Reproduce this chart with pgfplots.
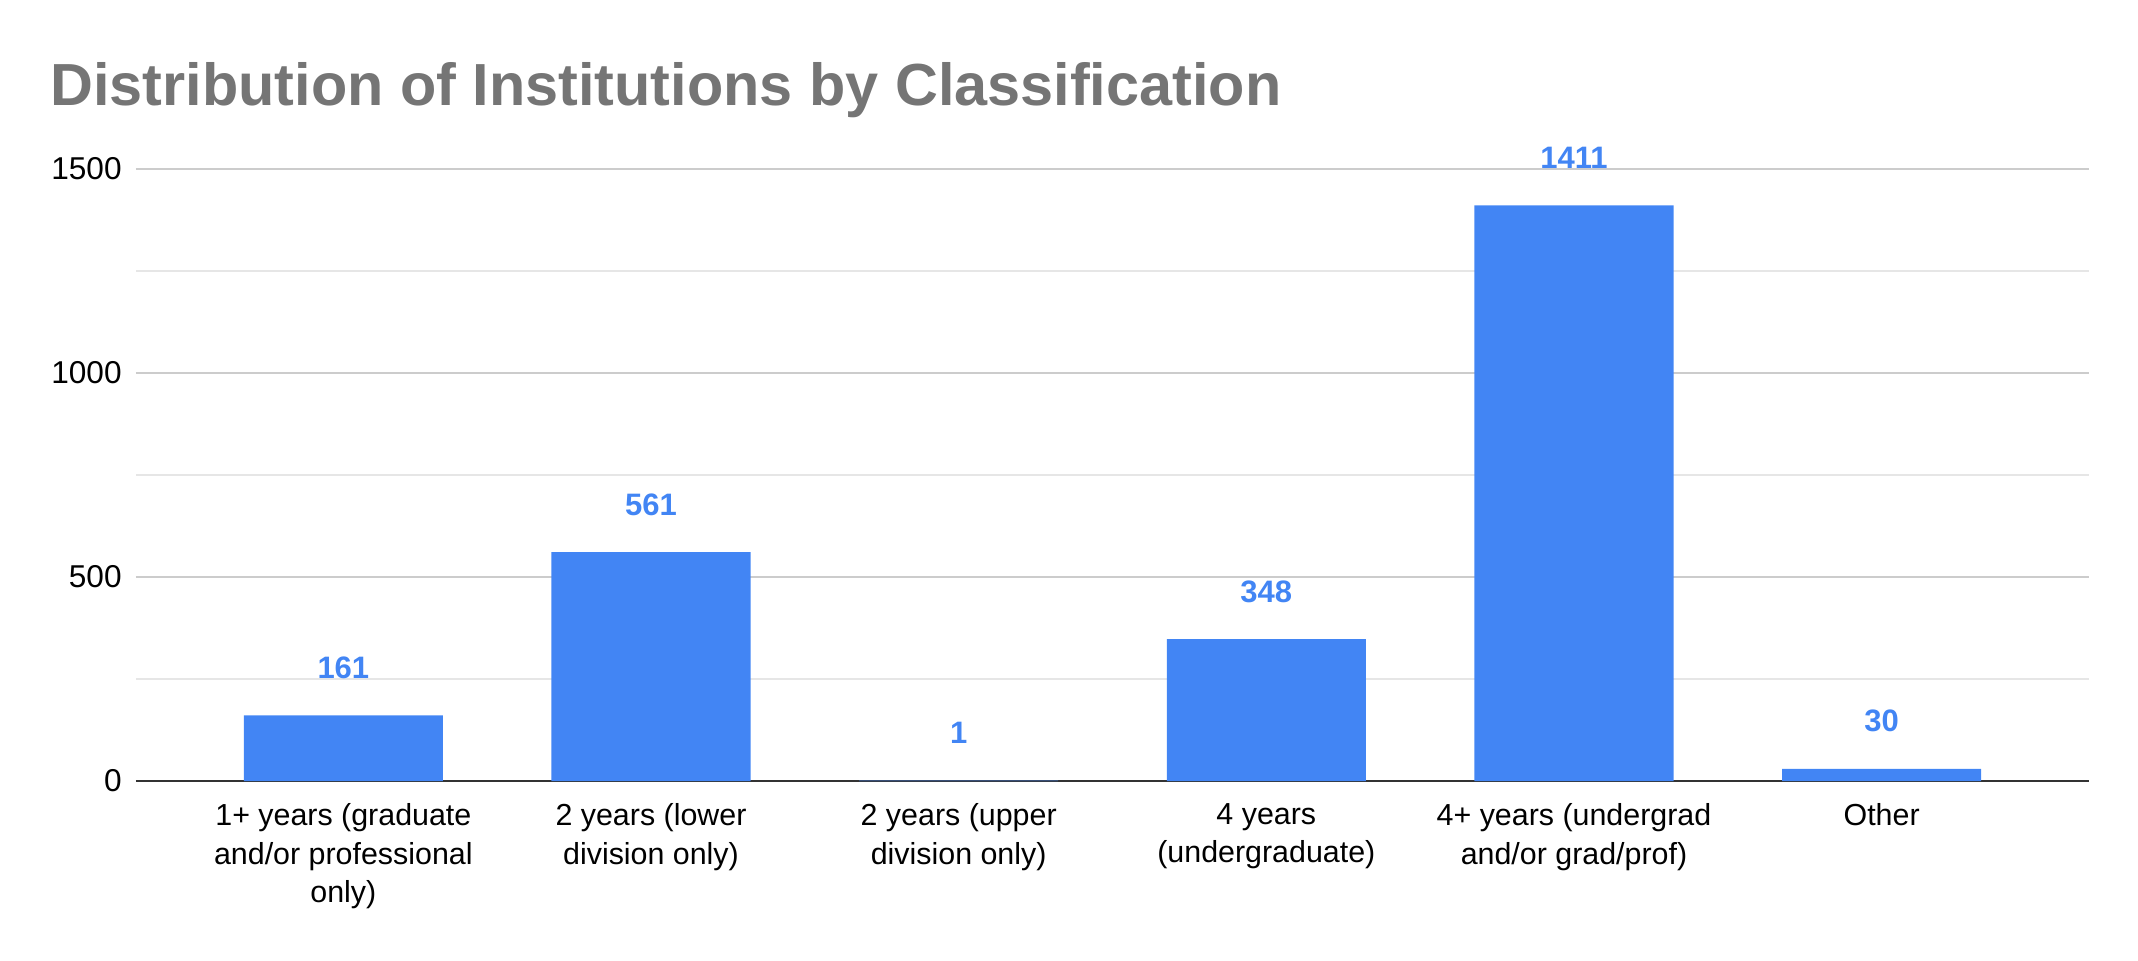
\documentclass[border=0pt]{standalone}
\usepackage{pgfplots}
\pgfplotsset{compat=1.18}
\usepackage{fontspec}
\setmainfont{Liberation Sans}
\definecolor{barblue}{HTML}{4285F4}
\definecolor{titlegray}{HTML}{757575}
\definecolor{gridmaj}{HTML}{CCCCCC}
\definecolor{gridmin}{HTML}{E6E6E6}
\definecolor{axisdark}{HTML}{333333}
\begin{document}
\begin{tikzpicture}
\useasboundingbox (-68pt,-89.5pt) rectangle (1001pt,390.5pt);
\begin{axis}[
  at={(0,0)}, anchor=south west,
  scale only axis,
  width=976.5pt, height=306pt,
  xmin=-0.674, xmax=5.674,
  ymin=0, ymax=1500,
  ybar, bar width=0.647,
  xtick={0,1,2,3,4,5},
  xticklabels={{1+ years (graduate\\and/or professional\\only)},{2 years (lower\\division only)},{2 years (upper\\division only)},{4 years\\(undergraduate)},{4+ years (undergrad\\and/or grad/prof)},{Other}},
  ytick={0,500,1000,1500},
  minor ytick={250,750,1250},
  ymajorgrids, yminorgrids,
  major grid style={draw=gridmaj, line width=0.6pt},
  minor grid style={draw=gridmin, line width=0.6pt},
  major tick length=0pt, minor tick length=0pt,
  axis x line*=bottom, axis y line*=left,
  x axis line style={draw=axisdark, line width=0.9pt, -},
  y axis line style={draw=none},
  /pgf/number format/assume math mode=true,
  /pgf/number format/1000 sep={},
  yticklabel style={font=\fontsize{15.8}{18}\selectfont, anchor=east, inner sep=0pt, xshift=-7pt},
  xticklabel style={font=\fontsize{15.2}{19.3}\selectfont, align=center, anchor=north, inner sep=0pt, yshift=-11pt},
  nodes near coords,
  every node near coord/.append style={font=\fontsize{15.5}{18}\selectfont\bfseries, text=barblue, anchor=base, inner sep=0pt, yshift=18.5pt},
  clip=false,
]
\addplot[fill=barblue, draw=none] coordinates {(0,161) (1,561) (2,1) (3,348) (4,1411) (5,30)};
\end{axis}
\node[anchor=base west, inner sep=0pt, text=titlegray, font=\fontsize{29.7}{34}\selectfont\bfseries] at (-43pt,337.5pt) {Distribution of Institutions by Classification};
\end{tikzpicture}
\end{document}
